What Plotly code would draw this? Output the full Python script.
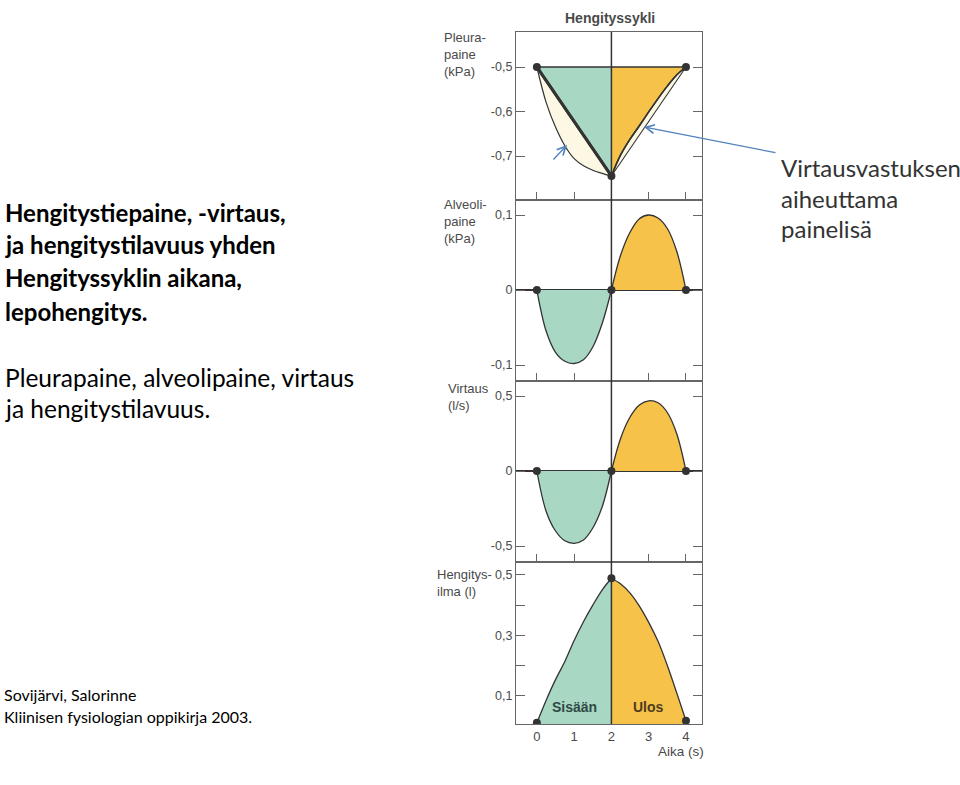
import plotly.graph_objects as go

# ---------------- data ----------------
T_INSP = [0.0, 0.25, 0.5, 0.75, 1.0, 1.25, 1.5, 1.75, 2.0]
T_EXP = [2.0, 2.25, 2.5, 2.75, 3.0, 3.25, 3.5, 3.75, 4.0]
T_NODES = [0, 2, 4]

PLEURA_STATIC = [-0.5, -0.745, -0.5]          # elastic (straight) line nodes
PLEURA_BASE = -0.5
PLEURA_INSP = [-0.500, -0.580, -0.635, -0.677, -0.706, -0.722, -0.732, -0.739, -0.745]
PLEURA_EXP = [-0.745, -0.697, -0.662, -0.632, -0.601, -0.571, -0.543, -0.518, -0.500]

ALV_INSP = [0, -0.055, -0.083, -0.095, -0.098, -0.093, -0.076, -0.045, 0]
ALV_EXP = [0, 0.047, 0.077, 0.095, 0.100, 0.096, 0.082, 0.052, 0]

FLOW_INSP = [0, -0.27, -0.40, -0.465, -0.482, -0.46, -0.38, -0.24, 0]
FLOW_EXP = [0, 0.22, 0.36, 0.44, 0.468, 0.455, 0.39, 0.25, 0]

VOL_INSP = [0.01, 0.085, 0.153, 0.213, 0.283, 0.345, 0.40, 0.45, 0.489]
VOL_EXP = [0.489, 0.47, 0.44, 0.397, 0.343, 0.28, 0.20, 0.11, 0.017]

X_TICKS = [0, 1, 2, 3, 4]
PLEURA_TICKS = [-0.7, -0.6, -0.5]
PLEURA_LABELS = ["-0,7", "-0,6", "-0,5"]
ALV_TICKS = [-0.1, 0, 0.1]
ALV_LABELS = ["-0,1", "0", "0,1"]
FLOW_TICKS = [-0.5, 0, 0.5]
FLOW_LABELS = ["-0,5", "0", "0,5"]
VOL_TICKS = [0.1, 0.2, 0.3, 0.4, 0.5]
VOL_LABELS = ["0,1", "", "0,3", "", "0,5"]

# ---------------- style ----------------
W, H = 960, 785
GREEN = "#a8d7c3"
YELLOW = "#f6c24a"
CREAM = "#fcf8e4"
LINE = "#333333"
FRAME = "#666666"
LABEL = "#4a4a4a"
BLUE = "#4f81bd"
CHART_FONT = "Liberation Sans"
SLIDE_FONT = "Lato"


def px(x):
    return x / W


def py(y):
    return 1 - y / H


fig = go.Figure()

# ---- panel 1: pleural pressure ----
ax = dict(xaxis="x", yaxis="y")
fig.add_trace(go.Scatter(x=T_NODES[:2], y=[PLEURA_BASE, PLEURA_BASE], mode="lines",
                         line=dict(color=LINE, width=1.6), **ax))
fig.add_trace(go.Scatter(x=T_NODES[:2], y=PLEURA_STATIC[:2], mode="lines", fill="tonexty",
                         fillcolor=GREEN, line=dict(color=LINE, width=3), **ax))
fig.add_trace(go.Scatter(x=T_INSP, y=PLEURA_INSP, mode="lines", fill="tonexty",
                         fillcolor=CREAM, line=dict(color=LINE, width=1.2, shape="spline"), **ax))
fig.add_trace(go.Scatter(x=T_NODES[:2], y=PLEURA_STATIC[:2], mode="lines",
                         line=dict(color=LINE, width=3), **ax))
fig.add_trace(go.Scatter(x=T_NODES[1:], y=[PLEURA_BASE, PLEURA_BASE], mode="lines",
                         line=dict(color=LINE, width=1.6), **ax))
fig.add_trace(go.Scatter(x=T_EXP, y=PLEURA_EXP, mode="lines", fill="tonexty",
                         fillcolor=YELLOW, line=dict(color=LINE, width=1.5, shape="spline"), **ax))
fig.add_trace(go.Scatter(x=T_NODES[1:], y=PLEURA_STATIC[1:], mode="lines", fill="tonexty",
                         fillcolor=CREAM, line=dict(color=LINE, width=1.1), **ax))
fig.add_trace(go.Scatter(x=T_EXP, y=PLEURA_EXP, mode="lines",
                         line=dict(color=LINE, width=1.5, shape="spline"), **ax))
fig.add_trace(go.Scatter(x=T_NODES, y=PLEURA_STATIC, mode="markers",
                         marker=dict(color=LINE, size=8), **ax))

# ---- panel 2: alveolar pressure ----
ax = dict(xaxis="x2", yaxis="y2")
fig.add_trace(go.Scatter(x=T_INSP, y=ALV_INSP, mode="lines", fill="tozeroy", fillcolor=GREEN,
                         line=dict(color=LINE, width=1.3, shape="spline"), **ax))
fig.add_trace(go.Scatter(x=T_EXP, y=ALV_EXP, mode="lines", fill="tozeroy", fillcolor=YELLOW,
                         line=dict(color=LINE, width=1.3, shape="spline"), **ax))
fig.add_trace(go.Scatter(x=T_NODES, y=[ALV_INSP[0], ALV_INSP[-1], ALV_EXP[-1]], mode="markers",
                         marker=dict(color=LINE, size=8), **ax))

# ---- panel 3: flow ----
ax = dict(xaxis="x3", yaxis="y3")
fig.add_trace(go.Scatter(x=T_INSP, y=FLOW_INSP, mode="lines", fill="tozeroy", fillcolor=GREEN,
                         line=dict(color=LINE, width=1.3, shape="spline"), **ax))
fig.add_trace(go.Scatter(x=T_EXP, y=FLOW_EXP, mode="lines", fill="tozeroy", fillcolor=YELLOW,
                         line=dict(color=LINE, width=1.3, shape="spline"), **ax))
fig.add_trace(go.Scatter(x=T_NODES, y=[FLOW_INSP[0], FLOW_INSP[-1], FLOW_EXP[-1]], mode="markers",
                         marker=dict(color=LINE, size=8), **ax))

# ---- panel 4: volume ----
ax = dict(xaxis="x4", yaxis="y4")
fig.add_trace(go.Scatter(x=T_INSP, y=VOL_INSP, mode="lines", fill="tozeroy", fillcolor=GREEN,
                         line=dict(color=LINE, width=1.3, shape="spline"), **ax))
fig.add_trace(go.Scatter(x=T_EXP, y=VOL_EXP, mode="lines", fill="tozeroy", fillcolor=YELLOW,
                         line=dict(color=LINE, width=1.3, shape="spline"), **ax))
fig.add_trace(go.Scatter(x=T_NODES, y=[VOL_INSP[0], VOL_INSP[-1], VOL_EXP[-1]], mode="markers",
                         marker=dict(color=LINE, size=8), **ax))

# ---------------- axes ----------------
XDOM = [px(516), px(702)]
XRANGE = [-0.56, 4.43]
panels = [  # (top px, bottom px, range, ticks, labels)
    (32, 200, [-0.7989, -0.4213], PLEURA_TICKS, PLEURA_LABELS),
    (200, 381, [-0.1213, 0.12], ALV_TICKS, ALV_LABELS),
    (381, 562, [-0.6067, 0.6], FLOW_TICKS, FLOW_LABELS),
    (562, 724, [0.006, 0.543], VOL_TICKS, VOL_LABELS),
]
layout_axes = {}
for i, (top, bot, rng, tv, tt) in enumerate(panels, start=1):
    sx = "" if i == 1 else str(i)
    last = i == 4
    layout_axes["xaxis" + sx] = dict(
        domain=XDOM, range=XRANGE, anchor="y" + sx, showgrid=False, zeroline=False,
        showline=True, mirror=True, linecolor=FRAME, linewidth=1.2,
        tickvals=X_TICKS, ticks="" if last else "inside", ticklen=8, tickwidth=1.2,
        tickcolor=FRAME, showticklabels=last, layer="above traces",
        tickfont=dict(family=CHART_FONT, size=13, color=LABEL), fixedrange=True,
    )
    layout_axes["yaxis" + sx] = dict(
        domain=[py(bot), py(top)], range=rng, anchor="x" + sx, showgrid=False,
        zeroline=(i in (2, 3)), zerolinecolor=LINE, zerolinewidth=1.6,
        showline=True, mirror="ticks", linecolor=FRAME, linewidth=1.2,
        tickvals=tv, ticktext=tt, ticks="inside", ticklen=9, tickwidth=1.2, tickcolor=FRAME,
        layer="above traces", tickfont=dict(family=CHART_FONT, size=12.5, color=LABEL),
        fixedrange=True,
    )

annotations = []


def text(x, y, s, size, color="#000000", bold=False, family=SLIDE_FONT, xanchor="left"):
    annotations.append(dict(
        x=px(x), y=py(y), xref="paper", yref="paper", text=f"<b>{s}</b>" if bold else s,
        showarrow=False, xanchor=xanchor, yanchor="middle", align="left",
        font=dict(family=family, size=size, color=color),
    ))


# chart labels
text(610, 18, "Hengityssykli", 14, LABEL, bold=True, family=CHART_FONT, xanchor="center")
text(442, 55, "Pleura-<br>paine<br>(kPa)", 13, LABEL, family=CHART_FONT)
text(442, 222, "Alveoli-<br>paine<br>(kPa)", 13, LABEL, family=CHART_FONT)
text(446, 397, "Virtaus<br>(l/s)", 13, LABEL, family=CHART_FONT)
text(435, 583, "Hengitys-<br>ilma (l)", 13, LABEL, family=CHART_FONT)
text(706, 751, "Aika (s)", 13.5, LABEL, family=CHART_FONT, xanchor="right")
annotations.append(dict(x=1, y=0.062, xref="x4", yref="y4", text="<b>Sisään</b>", showarrow=False,
                        font=dict(family=CHART_FONT, size=14, color="#2e4a44")))
annotations.append(dict(x=3, y=0.062, xref="x4", yref="y4", text="<b>Ulos</b>", showarrow=False,
                        font=dict(family=CHART_FONT, size=14, color="#4d3b1e")))

# slide texts
for yy, s in [(213, "Hengitystiepaine, -virtaus,"), (245, "ja hengitystilavuus yhden"),
              (278, "Hengityssyklin aikana,"), (311, "lepohengitys.")]:
    text(3, yy, s, 24, "#000000", bold=True)
for yy, s in [(377, "Pleurapaine, alveolipaine, virtaus"), (408, "ja hengitystilavuus.")]:
    text(3, yy, s, 24.5, "#000000")
for yy, s in [(168, "Virtausvastuksen"), (199, "aiheuttama"), (229, "painelisä")]:
    text(779, yy, s, 24, "#333333")
for yy, s in [(694, "Sovijärvi, Salorinne"), (716, "Kliinisen fysiologian oppikirja 2003.")]:
    text(2, yy, s, 16, "#000000")

# blue arrows
annotations.append(dict(x=px(567), y=py(145), xref="paper", yref="paper", text="",
                        showarrow=True, ax=552 - 567, ay=161 - 145, arrowhead=5,
                        arrowsize=1.3, arrowwidth=1.3, arrowcolor=BLUE))
annotations.append(dict(x=px(644), y=py(127), xref="paper", yref="paper", text="",
                        showarrow=True, ax=777 - 644, ay=153 - 127, arrowhead=5,
                        arrowsize=1.3, arrowwidth=1.3, arrowcolor=BLUE))

shapes = [dict(type="line", xref="x", yref="paper", x0=2, x1=2, y0=py(724), y1=py(32),
               line=dict(color=LINE, width=1.5), layer="above")]

fig.update_layout(
    width=W, height=H, margin=dict(l=0, r=0, t=0, b=0), showlegend=False,
    paper_bgcolor="white", plot_bgcolor="rgba(0,0,0,0)",
    annotations=annotations, shapes=shapes, **layout_axes,
)

fig.write_html("out.html")
